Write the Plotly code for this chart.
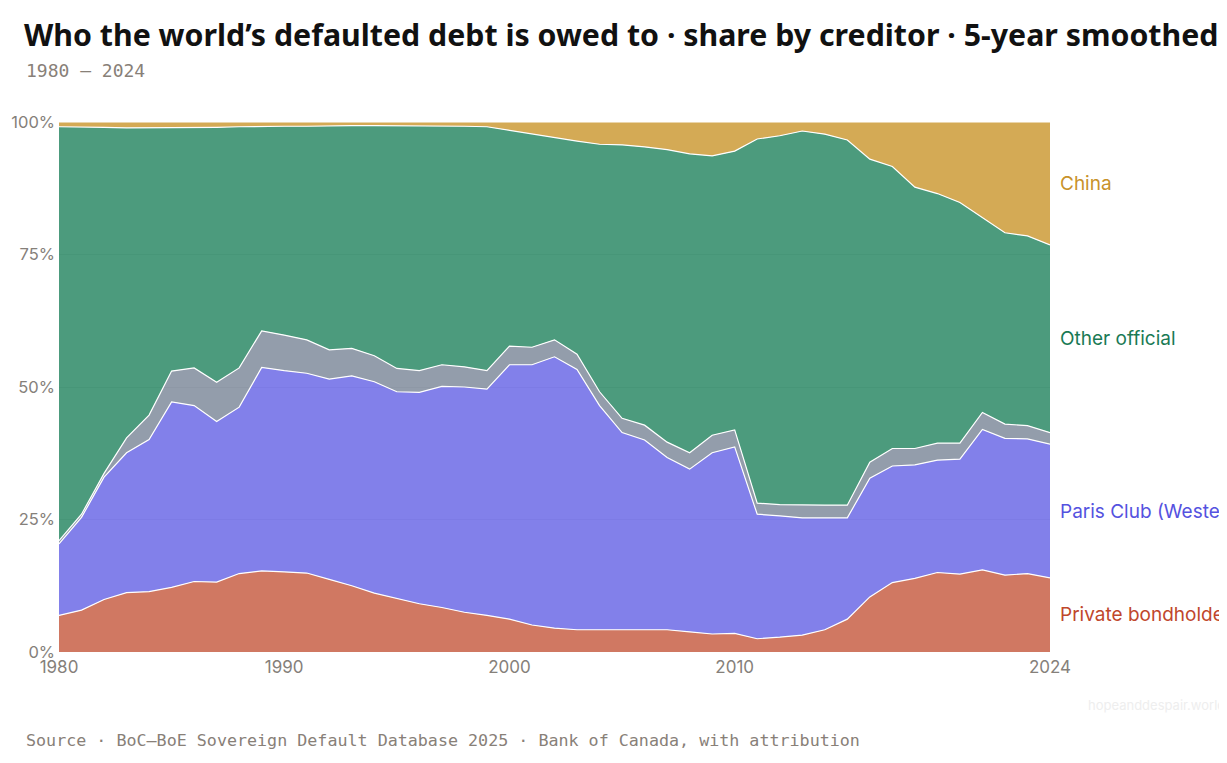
import plotly.graph_objects as go

years = list(range(1980, 2025))

private_bondholders = [6.9, 7.9, 9.9, 11.2, 11.4, 12.2, 13.3, 13.2, 14.8, 15.3,
                       15.1, 14.9, 13.7, 12.5, 11.1, 10.1, 9.1, 8.4, 7.5, 6.9,
                       6.2, 5.1, 4.5, 4.2, 4.2, 4.3, 4.3, 4.2, 3.8, 3.4,
                       3.5, 2.5, 2.8, 3.2, 4.2, 6.2, 10.4, 13.1, 13.9, 15.0,
                       14.7, 15.5, 14.5, 14.8, 14.0]
paris_club = [13.5, 17.5, 23.1, 26.4, 28.7, 35.0, 33.2, 30.3, 31.4, 38.4,
              38.0, 37.7, 37.8, 39.6, 39.9, 39.0, 39.9, 41.7, 42.5, 42.7,
              48.0, 49.1, 51.2, 49.1, 42.3, 37.1, 35.7, 32.5, 30.7, 34.2,
              35.2, 23.5, 22.9, 22.1, 21.1, 19.1, 22.4, 22.0, 21.4, 21.2,
              21.7, 26.5, 25.8, 25.4, 25.2]
multilateral = [0.6, 0.6, 0.7, 2.8, 4.6, 5.8, 7.1, 7.4, 7.4, 6.9,
                6.7, 6.3, 5.5, 5.2, 4.9, 4.4, 4.1, 4.1, 3.8, 3.5,
                3.5, 3.3, 3.2, 2.9, 2.6, 2.7, 2.8, 2.9, 3.1, 3.3,
                3.2, 2.1, 2.1, 2.4, 2.4, 2.4, 3.0, 3.3, 3.1, 3.2,
                3.0, 3.2, 2.7, 2.5, 2.2]
other_official = [78.1, 73.1, 65.3, 58.5, 54.2, 46.0, 45.4, 48.1, 45.5, 38.6,
                  39.4, 40.3, 42.3, 42.0, 43.4, 45.8, 46.2, 45.1, 45.4, 46.0,
                  40.7, 40.2, 38.1, 40.2, 46.7, 51.6, 52.5, 55.2, 56.4, 52.7,
                  52.6, 68.7, 69.6, 70.6, 70.0, 68.9, 57.2, 53.2, 49.3, 47.1,
                  45.4, 36.8, 36.1, 35.8, 35.4]
china = [0.9, 0.9, 1.0, 1.1, 1.1, 1.0, 1.0, 1.0, 0.9, 0.8,
         0.8, 0.8, 0.7, 0.7, 0.7, 0.7, 0.7, 0.7, 0.8, 0.9,
         1.6, 2.3, 3.0, 3.6, 4.2, 4.3, 4.7, 5.2, 6.0, 6.4,
         5.5, 3.2, 2.6, 1.7, 2.3, 3.4, 7.0, 8.4, 12.3, 13.5,
         15.2, 18.0, 20.9, 21.5, 23.2]

y_ticks = [0, 25, 50, 75, 100]
y_tick_labels = ["0%", "25%", "50%", "75%", "100%"]
x_ticks = [1980, 1990, 2000, 2010, 2024]

series = [
    ("Private bondholders", private_bondholders, "rgba(196,86,59,0.8)", "#C0472C", True),
    ("Paris Club (Western)", paris_club, "rgba(99,96,229,0.8)", "#5552E0", True),
    ("Multilateral", multilateral, "rgba(120,132,150,0.8)", "#788496", False),
    ("Other official", other_official, "rgba(31,130,92,0.8)", "#1A7A55", True),
    ("China", china, "rgba(201,149,42,0.8)", "#C8922A", True),
]

fig = go.Figure()
for name, vals, fill, _, _ in series:
    fig.add_trace(go.Scatter(
        x=years, y=vals, name=name, mode="lines",
        stackgroup="one", groupnorm="percent",
        line=dict(color="white", width=1.2),
        fillcolor=fill, hoverinfo="skip",
    ))

# end labels sit at the middle of each band in the last year
total = sum(s[1][-1] for s in series)
base = 0
for name, vals, _, label_color, show in series:
    share = vals[-1] / total * 100
    if show:
        fig.add_annotation(
            x=years[-1], y=base + share / 2, xref="x", yref="y",
            text=name, showarrow=False, xanchor="left", yanchor="middle",
            xshift=8, font=dict(family="Inter", size=19, color=label_color),
        )
    base += share

# page offset: the html body adds 8px, so positions are given in page pixels
def px_x(px):
    return (px - 59) / 991

def px_y(py):
    return (652 - py) / 530

fig.add_annotation(
    text="1980 — 2024", xref="paper", yref="paper",
    x=px_x(24), y=px_y(71), xanchor="left", yanchor="middle",
    showarrow=False, font=dict(family="DejaVu Sans Mono", size=18, color="#888078"),
)
fig.add_annotation(
    text="Source · BoC–BoE Sovereign Default Database 2025 · Bank of Canada, with attribution",
    xref="paper", yref="paper",
    x=px_x(24), y=px_y(740), xanchor="left", yanchor="middle",
    showarrow=False, font=dict(family="DejaVu Sans Mono", size=16.7, color="#888078"),
)
fig.add_annotation(
    text="hopeanddespair.world", xref="paper", yref="paper",
    x=px_x(1227), y=px_y(705), xanchor="right", yanchor="middle",
    showarrow=False, font=dict(family="Inter", size=13, color="#eeeeee"),
)

fig.update_layout(
    width=1227, height=763,
    margin=dict(l=51, r=185, t=114, b=119),
    paper_bgcolor="white", plot_bgcolor="white",
    showlegend=False,
    title=dict(
        text="<b>Who the world’s defaulted debt is owed to · share by creditor · 5-year smoothed</b>",
        x=16 / 1227, xanchor="left", xref="container",
        y=1 - 27 / 763, yanchor="middle", yref="container",
        font=dict(family="Noto Sans", size=30.3, color="#111111"),
    ),
    font=dict(family="Inter"),
)
fig.update_xaxes(
    range=[1980, 2024], tickvals=x_ticks, automargin=False,
    showgrid=False, zeroline=False, showline=False, ticks="",
    ticklabelstandoff=3,
    tickfont=dict(family="Inter", size=17, color="#85807a"),
)
fig.update_yaxes(
    range=[0, 100], tickvals=y_ticks, ticktext=y_tick_labels, automargin=False,
    showgrid=True, gridcolor="#e6e6e6", gridwidth=1, zeroline=False, showline=False,
    ticklabelstandoff=3,
    tickfont=dict(family="Inter", size=16.5, color="#85807a"),
)

fig.write_html("out.html")
